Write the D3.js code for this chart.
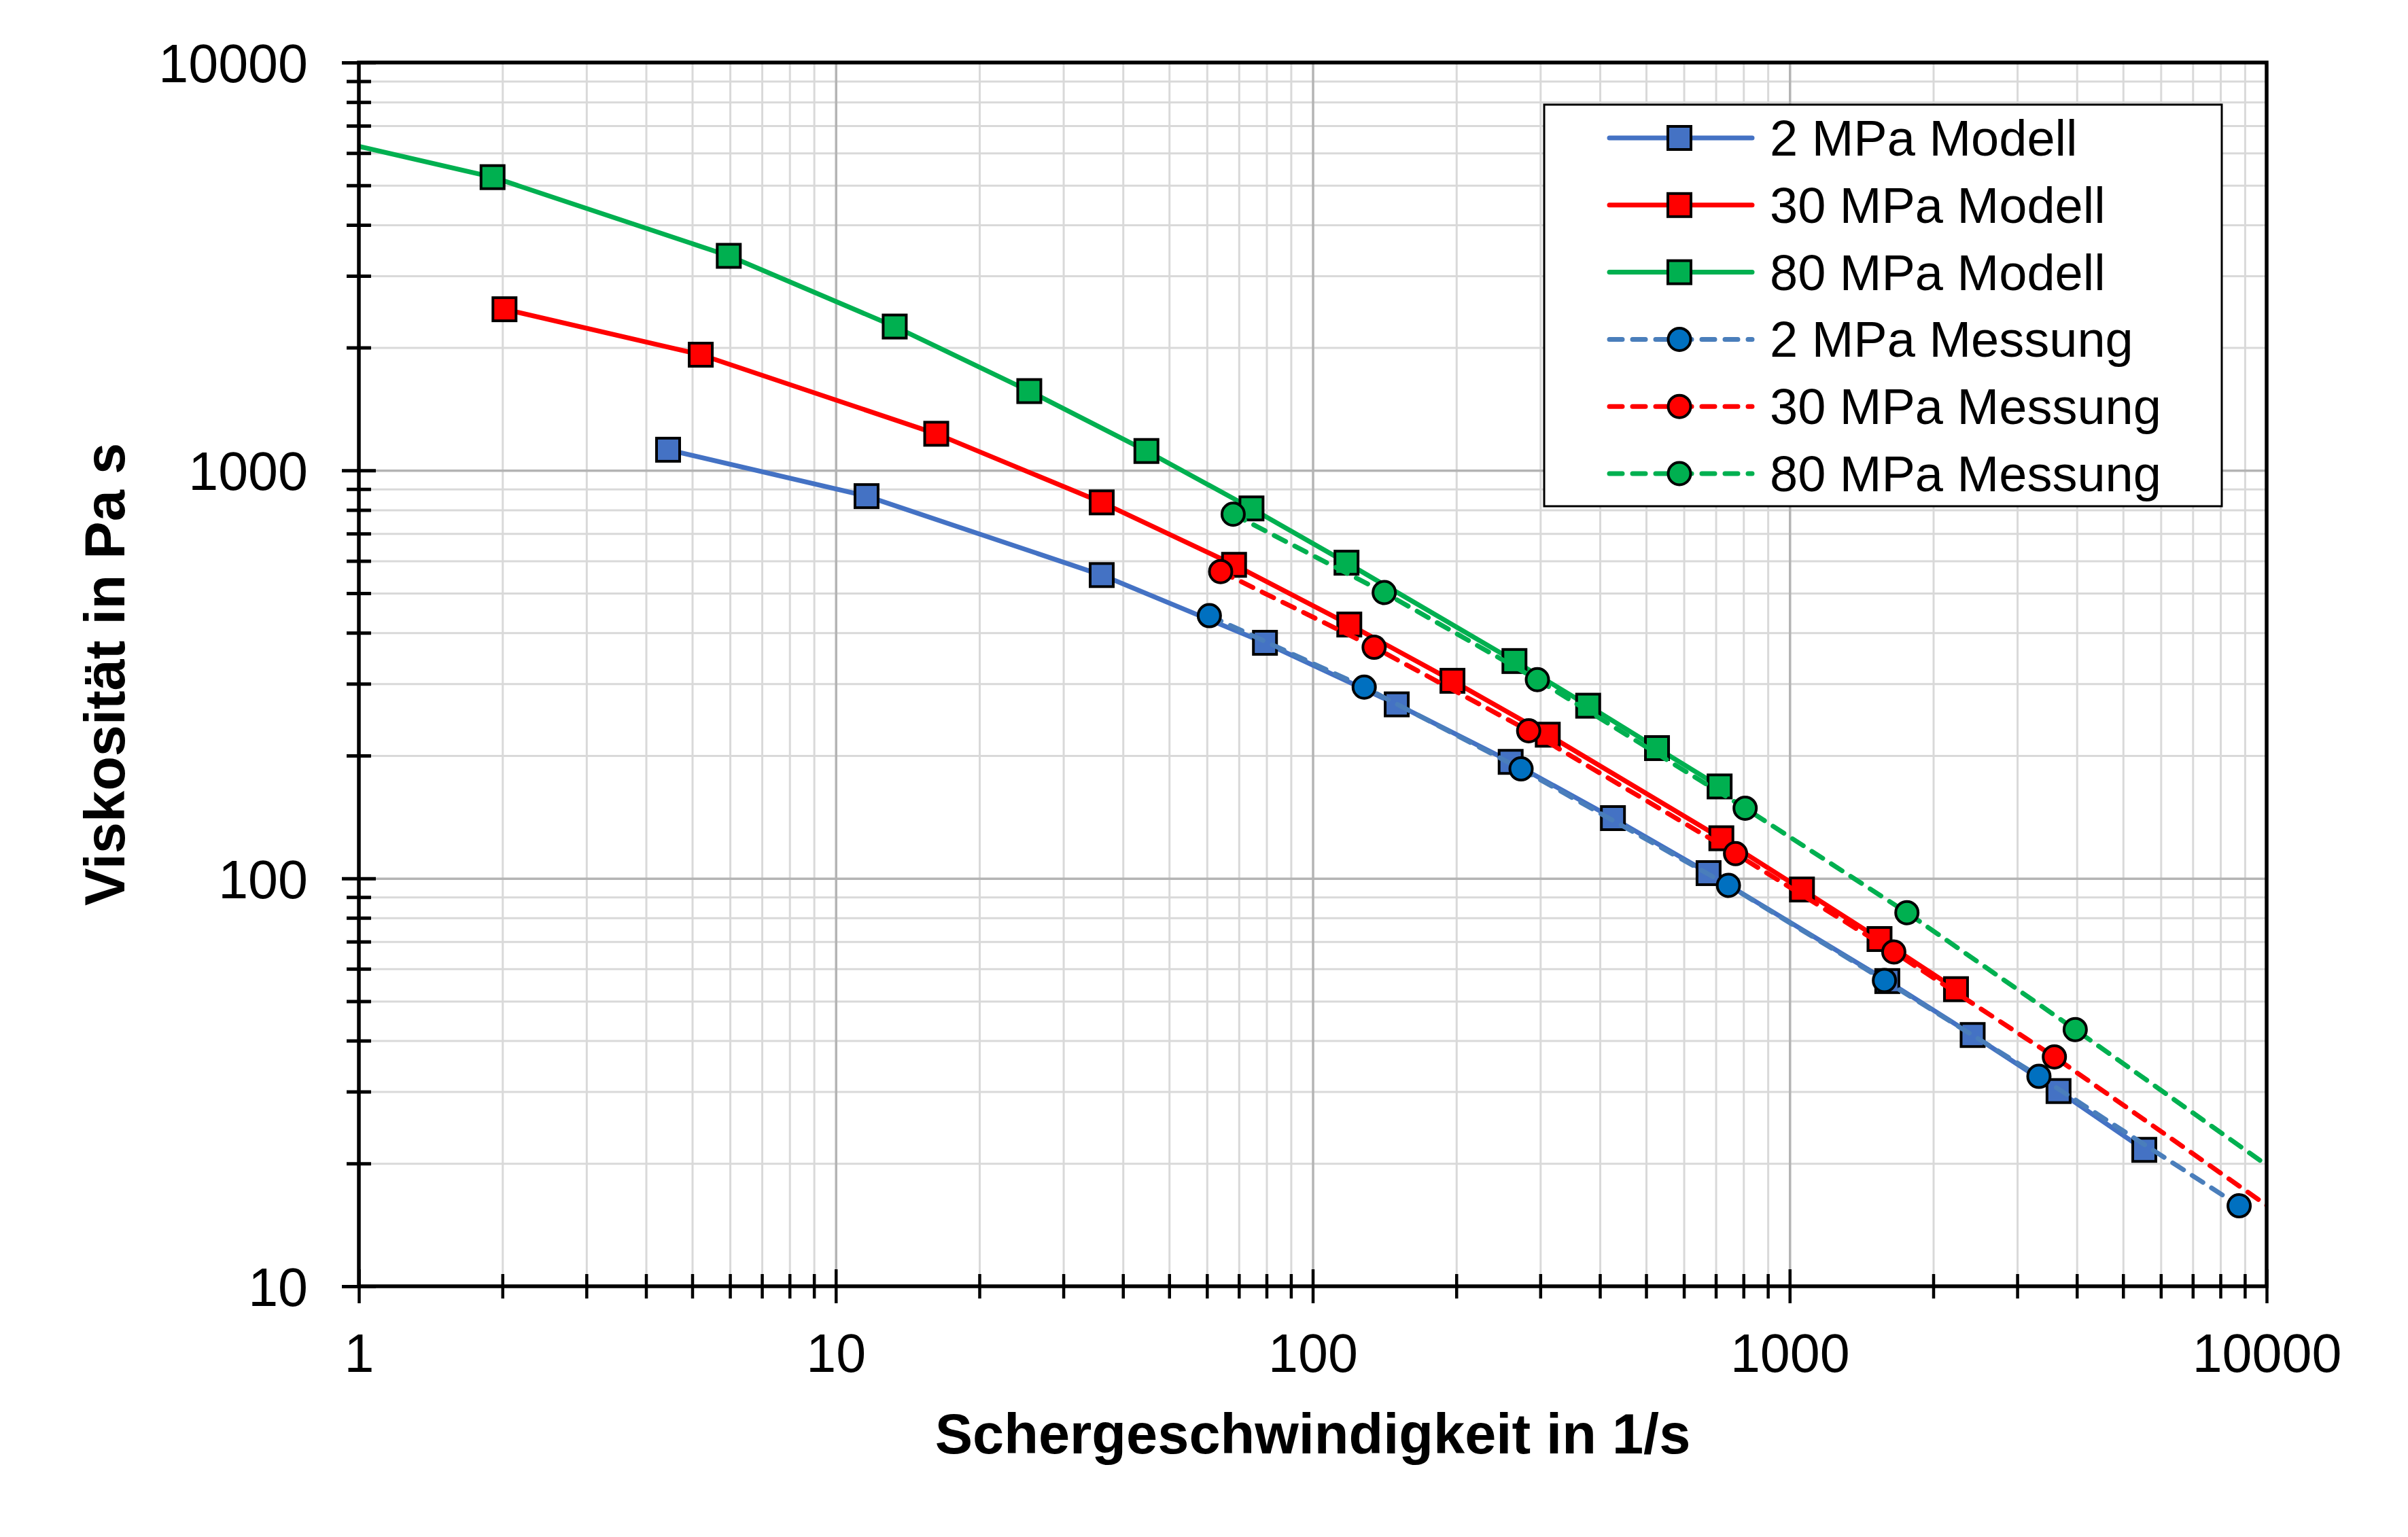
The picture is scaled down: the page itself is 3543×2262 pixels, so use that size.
<!DOCTYPE html>
<html>
<head>
<meta charset="utf-8">
<script src="https://cdn.jsdelivr.net/npm/d3@7"></script>
<style>
  body { margin: 0; background: #fff; }
  svg { display: block; }
  text { font-family: "Liberation Sans", Arial, sans-serif; }
</style>
</head>
<body>
<svg id="chart" width="3543" height="2262"></svg>
<script>
// values
const blueModelX  = [4.45, 11.6, 36.1, 79.4, 150, 260, 426, 676, 1602, 2419, 3662, 5540];
const blueModelY  = [1124, 865, 554, 378, 267, 193, 140.5, 103, 56.0, 41.3, 30.1, 21.6];
const redModelX   = [2.02, 5.21, 16.24, 36.1, 68.4, 119.3, 196.3, 311, 719, 1061, 1543, 2232];
const redModelY   = [2484, 1922, 1230, 835, 587, 419, 305, 225, 125.4, 93.9, 71.0, 53.5];
const greenModelX = [0.6, 1.907, 5.965, 13.29, 25.45, 44.8, 74.4, 117.7, 264.8, 378, 527, 713];
const greenModelY = [7150, 5236, 3358, 2253, 1565, 1116, 807, 594, 341, 265, 208.6, 168];

const blueMeasX  = [60.7, 128.2, 273.4, 744, 1580, 3331, 8757];
const blueMeasY  = [440.5, 294.3, 185.5, 96.1, 56.2, 32.7, 15.75];
const redMeasX   = [64.1, 134.5, 283.6, 770, 1653, 3589, 14000];
const redMeasY   = [565, 368.5, 230, 115, 66.0, 36.5, 12.0];
const greenMeasX = [68.1, 141.2, 295.8, 806.5, 1761, 3969, 14000];
const greenMeasY = [781, 502, 307, 148.6, 82.4, 42.6, 15.0];

const xTickValues = [1, 10, 100, 1000, 10000];
const xTickLabels = ["1", "10", "100", "1000", "10000"];
const yTickValues = [10, 100, 1000, 10000];
const yTickLabels = ["10", "100", "1000", "10000"];

const zip = (xs, ys) => xs.map((v, i) => ({x: v, y: ys[i]}));

const series = [
    {name: "2 MPa Modell",   data: zip(blueModelX, blueModelY),   line: "#4472C4", fill: "#4472C4", dashed: false, marker: "square"},
    {name: "30 MPa Modell",  data: zip(redModelX, redModelY),     line: "#FF0000", fill: "#FF0000", dashed: false, marker: "square"},
    {name: "80 MPa Modell",  data: zip(greenModelX, greenModelY), line: "#00B050", fill: "#00B050", dashed: false, marker: "square"},
    {name: "2 MPa Messung",  data: zip(blueMeasX, blueMeasY),     line: "#4A7EBB", fill: "#0070C0", dashed: true,  marker: "circle"},
    {name: "30 MPa Messung", data: zip(redMeasX, redMeasY),       line: "#FF0000", fill: "#FF0000", dashed: true,  marker: "circle"},
    {name: "80 MPa Messung", data: zip(greenMeasX, greenMeasY),   line: "#00B050", fill: "#00B050", dashed: true,  marker: "circle"}
];

const svg = d3.select("#chart");
const margin = {top: 92, right: 208, bottom: 369, left: 528};
const width = +svg.attr("width") - margin.left - margin.right;
const height = +svg.attr("height") - margin.top - margin.bottom;
const g = svg.append("g").attr("transform", `translate(${margin.left},${margin.top})`);

const x = d3.scaleLog().domain([1, 10000]).range([0, width]);
const y = d3.scaleLog().domain([10, 10000]).range([height, 0]);

// minor positions 2..9 in every decade
const minorOf = (majors) => {
    const out = [];
    for (let i = 0; i < majors.length - 1; i++)
        for (let k = 2; k <= 9; k++) out.push(majors[i] * k);
    return out;
};
const xMinor = minorOf(xTickValues);
const yMinor = minorOf(yTickValues);

// grid
g.append("g").attr("class", "grid-minor-x")
    .attr("transform", `translate(0,${height})`)
    .call(d3.axisBottom(x).tickValues(xMinor).tickFormat("").tickSize(-height))
    .call(a => a.select(".domain").remove())
    .selectAll("line").attr("stroke", "#D9D9D9").attr("stroke-width", 3);
g.append("g").attr("class", "grid-minor-y")
    .call(d3.axisLeft(y).tickValues(yMinor).tickFormat("").tickSize(-width))
    .call(a => a.select(".domain").remove())
    .selectAll("line").attr("stroke", "#D9D9D9").attr("stroke-width", 3);
g.append("g").attr("class", "grid-major-x")
    .attr("transform", `translate(0,${height})`)
    .call(d3.axisBottom(x).tickValues(xTickValues).tickFormat("").tickSize(-height))
    .call(a => a.select(".domain").remove())
    .selectAll("line").attr("stroke", "#B4B4B4").attr("stroke-width", 3.5);
g.append("g").attr("class", "grid-major-y")
    .call(d3.axisLeft(y).tickValues(yTickValues).tickFormat("").tickSize(-width))
    .call(a => a.select(".domain").remove())
    .selectAll("line").attr("stroke", "#B4B4B4").attr("stroke-width", 3.5);

// series
g.append("clipPath").attr("id", "plotclip")
    .append("rect").attr("width", width).attr("height", height);
const plot = g.append("g").attr("clip-path", "url(#plotclip)");

const line = d3.line()
    .x(d => x(d.x))
    .y(d => y(d.y));

const DASH = "19,15";

function drawMarker(sel, s) {
    if (s.marker === "square") {
        sel.append("rect")
            .attr("x", -17).attr("y", -17)
            .attr("width", 34).attr("height", 34)
            .attr("fill", s.fill).attr("stroke", "#000").attr("stroke-width", 4);
    } else {
        sel.append("circle")
            .attr("r", 16.5)
            .attr("fill", s.fill).attr("stroke", "#000").attr("stroke-width", 4);
    }
}

series.forEach(s => {
    plot.append("path")
        .datum(s.data)
        .attr("fill", "none")
        .attr("stroke", s.line)
        .attr("stroke-width", 7)
        .attr("stroke-linejoin", "round")
        .attr("stroke-linecap", s.dashed ? "round" : "butt")
        .attr("stroke-dasharray", s.dashed ? DASH : null)
        .attr("d", line);

    plot.selectAll(null)
        .data(s.data)
        .enter().append("g")
        .attr("transform", d => `translate(${x(d.x)},${y(d.y)})`)
        .each(function() { drawMarker(d3.select(this), s); });
});

// axes ticks (crossing the axis line)
const xAxisMinor = g.append("g").attr("transform", `translate(0,${height})`)
    .call(d3.axisBottom(x).tickValues(xMinor).tickFormat("").tickSize(18));
xAxisMinor.select(".domain").remove();
xAxisMinor.selectAll("line").attr("y1", -18).attr("stroke", "#000").attr("stroke-width", 4.5);

const xAxisMajor = g.append("g").attr("transform", `translate(0,${height})`)
    .call(d3.axisBottom(x).tickValues(xTickValues).tickFormat((d, i) => xTickLabels[i]).tickSize(25));
xAxisMajor.select(".domain").remove();
xAxisMajor.selectAll("line").attr("y1", -25).attr("stroke", "#000").attr("stroke-width", 4.5);
xAxisMajor.selectAll("text")
    .attr("y", 126).attr("dy", 0)
    .attr("font-size", 79).attr("fill", "#000")
    .style("font-family", '"Liberation Sans", Arial, sans-serif');

const yAxisMinor = g.append("g")
    .call(d3.axisLeft(y).tickValues(yMinor).tickFormat("").tickSize(18));
yAxisMinor.select(".domain").remove();
yAxisMinor.selectAll("line").attr("x1", 18).attr("stroke", "#000").attr("stroke-width", 5);

const yAxisMajor = g.append("g")
    .call(d3.axisLeft(y).tickValues(yTickValues).tickFormat((d, i) => yTickLabels[i]).tickSize(25));
yAxisMajor.select(".domain").remove();
yAxisMajor.selectAll("line").attr("x1", 25).attr("stroke", "#000").attr("stroke-width", 5);
yAxisMajor.selectAll("text")
    .attr("x", -75).attr("dy", "0.36em")
    .attr("font-size", 79).attr("fill", "#000")
    .style("font-family", '"Liberation Sans", Arial, sans-serif');

// frame
g.append("rect")
    .attr("width", width).attr("height", height)
    .attr("fill", "none").attr("stroke", "#000").attr("stroke-width", 5.5);

// axis titles
svg.append("text")
    .attr("x", margin.left + width / 2).attr("y", 2139)
    .attr("text-anchor", "middle")
    .attr("font-size", 83).attr("font-weight", "bold")
    .text("Schergeschwindigkeit in 1/s");

svg.append("text")
    .attr("transform", `translate(183,${margin.top + height / 2}) rotate(-90)`)
    .attr("text-anchor", "middle")
    .attr("font-size", 83).attr("font-weight", "bold")
    .text("Viskosität in Pa s");

// legend
const legend = svg.append("g").attr("transform", "translate(2272,154)");
legend.append("rect")
    .attr("width", 997).attr("height", 591)
    .attr("fill", "#fff").attr("stroke", "#000").attr("stroke-width", 3);

const rows = legend.selectAll(".row")
    .data(series)
    .enter().append("g")
    .attr("class", "row")
    .attr("transform", (d, i) => `translate(0,${49 + i * 98.8})`);

rows.append("line")
    .attr("x1", 96).attr("x2", 306)
    .attr("stroke", d => d.line)
    .attr("stroke-width", 7)
    .attr("stroke-linecap", "round")
    .attr("stroke-dasharray", d => d.dashed ? DASH : null);

rows.append("g")
    .attr("transform", "translate(199,0)")
    .each(function(d) { drawMarker(d3.select(this), d); });

rows.append("text")
    .attr("x", 332).attr("y", 26)
    .attr("font-size", 74)
    .text(d => d.name);
</script>
</body>
</html>
